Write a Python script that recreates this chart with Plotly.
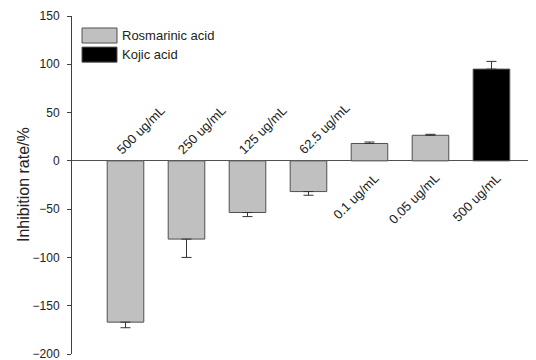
import plotly.graph_objects as go

# ---- data ----
labels = ["500 ug/mL", "250 ug/mL", "125 ug/mL", "62.5 ug/mL", "0.1 ug/mL", "0.05 ug/mL", "500 ug/mL"]
ros_values = [-167.0, -81.0, -53.5, -31.8, 18.0, 26.5]
ros_errors = [5.8, 19.0, 4.2, 3.8, 1.5, 1.0]
kojic_values = [95.0]
kojic_errors = [8.0]
series_names = ["Rosmarinic acid", "Kojic acid"]
y_title = "Inhibition rate/%"
y_ticks = [-200, -150, -100, -50, 0, 50, 100, 150]

FONT = "Liberation Sans, Arial, sans-serif"
TXT = "#222222"
GRAY = "#c0c0c0"
EDGE = "#505050"

ros_x = list(range(len(ros_values)))
kojic_x = [len(ros_values) + i for i in range(len(kojic_values))]


def err_parts(vals, errs):
    up = [e if v >= 0 else 0 for v, e in zip(vals, errs)]
    down = [e if v < 0 else 0 for v, e in zip(vals, errs)]
    return up, down


ru, rd = err_parts(ros_values, ros_errors)
ku, kd = err_parts(kojic_values, kojic_errors)

fig = go.Figure()
fig.add_trace(go.Bar(
    x=ros_x, y=ros_values, name=series_names[0], width=0.6,
    marker=dict(color=GRAY, line=dict(color=EDGE, width=1)),
    error_y=dict(type="data", symmetric=False, array=ru, arrayminus=rd,
                 color="#333333", thickness=1, width=5),
    showlegend=False,
))
fig.add_trace(go.Bar(
    x=kojic_x, y=kojic_values, name=series_names[1], width=0.6,
    marker=dict(color="#000000", line=dict(color=EDGE, width=1)),
    error_y=dict(type="data", symmetric=False, array=ku, arrayminus=kd,
                 color="#333333", thickness=1, width=5),
    showlegend=False,
))

all_vals = ros_values + kojic_values
annotations = []
for i, (lab, v) in enumerate(zip(labels, all_vals)):
    if v < 0:
        annotations.append(dict(
            x=i, y=0, xref="x", yref="y", text=lab, showarrow=False,
            textangle=-45, xanchor="left", yanchor="bottom",
            xshift=-15, yshift=1,
            font=dict(family=FONT, size=13, color=TXT),
        ))
    else:
        annotations.append(dict(
            x=i, y=0, xref="x", yref="y", text=lab, showarrow=False,
            textangle=-45, xanchor="right", yanchor="top",
            xshift=15, yshift=-7,
            font=dict(family=FONT, size=13, color=TXT),
        ))

# y-axis title
annotations.append(dict(
    x=-0.1056, y=0.5, xref="paper", yref="paper", text=y_title,
    showarrow=False, textangle=-90, xanchor="center", yanchor="middle",
    font=dict(family=FONT, size=16, color=TXT),
))

# manual legend (large swatches, as in the original)
shapes = []
swatch_colors = [GRAY, "#000000"]
leg_rows = [(0.9645, 0.920), (0.908, 0.8635)]
for name, col, (y1, y0) in zip(series_names, swatch_colors, leg_rows):
    shapes.append(dict(type="rect", xref="paper", yref="paper",
                       x0=0.0216, x1=0.097, y0=y0, y1=y1,
                       fillcolor=col, line=dict(color=EDGE, width=1)))
    annotations.append(dict(
        x=0.104, y=(y0 + y1) / 2, xref="paper", yref="paper", text=name,
        showarrow=False, xanchor="left", yanchor="middle",
        font=dict(family=FONT, size=13, color=TXT),
    ))

# page body has an 8px margin, so the figure is offset by 8px
fig.update_layout(
    width=528, height=352,
    margin=dict(l=64, r=0, t=8, b=6),
    paper_bgcolor="white", plot_bgcolor="white",
    font=dict(family=FONT, size=12, color=TXT),
    barmode="overlay",
    annotations=annotations,
    shapes=shapes,
    xaxis=dict(range=[-0.877, 6.73], showgrid=False, showline=False,
               showticklabels=False, ticks="", zeroline=False),
    yaxis=dict(range=[-200, 150], tickvals=y_ticks, showgrid=False,
               showline=True, linecolor="#404040", linewidth=1,
               ticks="outside", ticklen=4, tickcolor="#404040",
               tickfont=dict(family=FONT, size=12, color=TXT),
               ticklabeloverflow="allow", ticklabelstandoff=5,
               zeroline=True, zerolinecolor="#505050", zerolinewidth=1),
)

fig.write_html("out.html")
